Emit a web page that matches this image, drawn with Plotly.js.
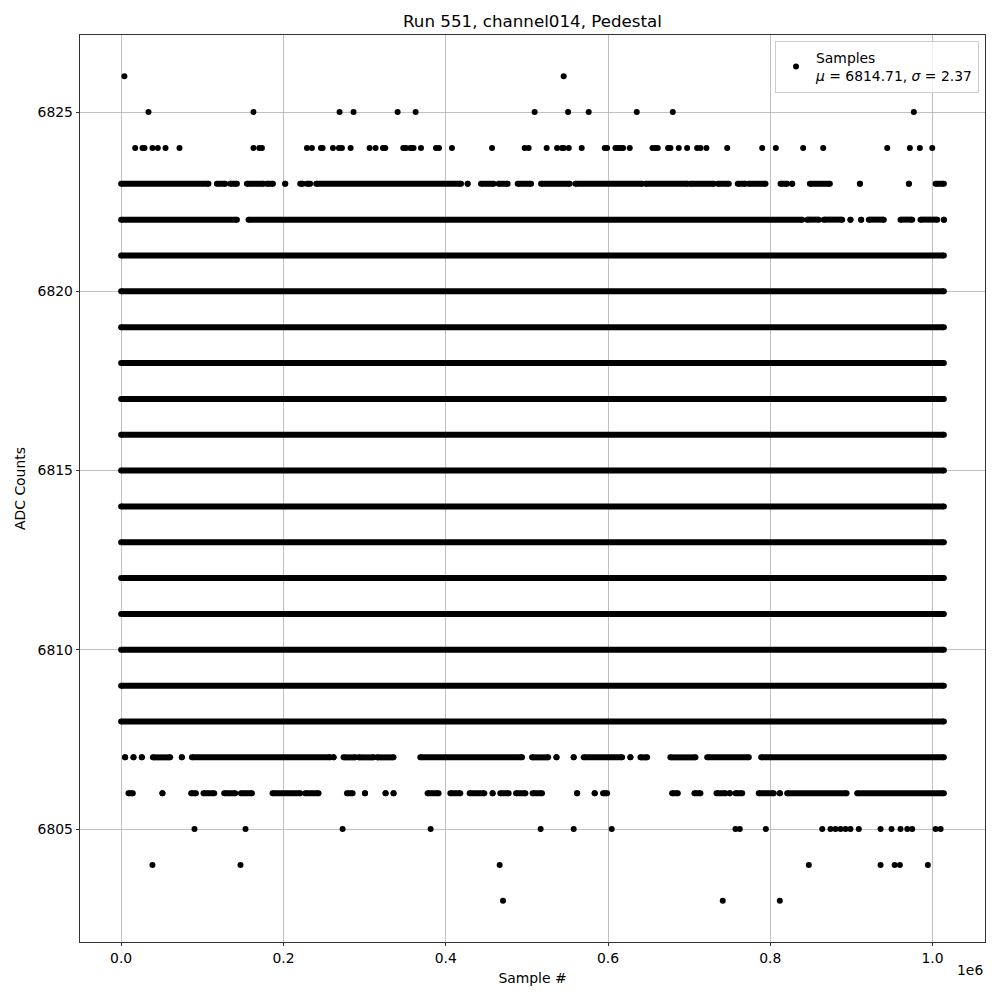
<!DOCTYPE html>
<html>
<head>
<meta charset="utf-8">
<script src="https://cdn.plot.ly/plotly-3.0.1.min.js"></script>
<style>html,body{margin:0;padding:0;background:#fff;}#chart{width:1000px;height:1000px;}</style>
</head>
<body>
<div id="chart"></div>
<script>
// ---- Data ----
const titleText = "Run 551, channel014, Pedestal";
const xLabel = "Sample #";
const yLabel = "ADC Counts";
const legendName = "Samples<br><i>μ</i> = 6814.71, <i>σ</i> = 2.37";

const xTickVals = [0, 200000, 400000, 600000, 800000, 1000000];
const xTickText = ["0.0", "0.2", "0.4", "0.6", "0.8", "1.0"];
const yTickVals = [6805, 6810, 6815, 6820, 6825];

// ADC levels that are filled over the whole run
const denseLevels = [6808, 6809, 6810, 6811, 6812, 6813, 6814, 6815, 6816, 6817, 6818, 6819, 6820, 6821];
const firstSample = 0;
const lastSample = 1013900;

// partially filled levels: runs of consecutive samples (start, end)
const row6823Start = [0, 118000, 134400, 155000, 179700, 202200, 220700, 229000, 240400, 427000, 443500, 465200, 488700, 517500, 559800, 646100, 701600, 735300, 759900, 773500, 812600, 827000, 848700, 910400, 970800, 1003700];
const row6823End   = [107600, 128200, 142700, 175500, 187100, 202200, 224000, 233000, 418900, 427000, 459100, 476300, 505200, 552800, 642000, 698300, 730300, 748800, 769400, 794100, 820800, 827000, 873400, 910400, 970800, 1013900];

const row6822Start = [0, 157000, 845500, 865900, 898800, 912000, 921400, 960500, 985100, 1013900];
const row6822End   = [142700, 839300, 859800, 888600, 898800, 912000, 939900, 974900, 1005800, 1013900];

const row6807Start = [4900, 15200, 25500, 39100, 74800, 87200, 261800, 274100, 292600, 315300, 368700, 506400, 536500, 557700, 570000, 627600, 640000, 676900, 722200, 788800];
const row6807End   = [4900, 15200, 25500, 60400, 74800, 257700, 261800, 288500, 311100, 335700, 494100, 526200, 536500, 557700, 617400, 627600, 648200, 707800, 773500, 1013900];

const row6806Start = [9000, 50900, 86300, 101500, 127000, 147600, 186600, 226900, 278300, 300500, 325900, 335700, 377700, 405700, 429500, 457800, 467300, 486700, 507100, 561900, 583600, 593900, 679000, 706500, 733700, 750100, 757100, 785800, 811700, 820800, 907100];
const row6806End   = [14400, 50900, 92100, 114700, 140600, 161100, 220700, 243300, 285200, 300500, 325900, 335700, 391200, 418000, 447600, 457800, 477600, 498200, 518700, 561900, 583600, 598900, 686000, 713900, 744800, 750100, 765400, 804300, 811700, 894000, 1013900];

// isolated samples
const pts6826 = [4000, 545400];
const pts6825 = [33700, 163100, 269200, 286400, 340700, 362900, 509600, 550800, 576200, 635400, 679800, 976900];
const pts6824 = [17300, 26300, 28800, 38600, 45200, 54700, 71900, 163100, 170200, 173500, 229000, 235100, 246200, 248300, 261000, 268400, 272100, 282800, 306200, 313600, 322600, 325500, 347700, 351000, 356400, 358400, 360400, 369500, 388000, 391700, 407700, 457100, 497300, 502200, 524400, 537200, 543300, 545400, 551600, 567600, 596000, 598900, 609100, 612000, 615300, 618600, 626800, 654800, 658400, 661300, 674000, 676900, 687200, 697500, 709800, 713900, 721300, 746900, 790000, 806800, 840500, 865200, 944100, 972000, 984300, 999600];
const pts6805 = [90400, 153300, 272900, 381400, 517000, 557700, 604600, 757100, 762400, 794500, 864000, 874200, 880400, 886600, 892700, 898800, 909100, 935900, 949400, 960500, 968800, 974900, 1003700, 1009900];
const pts6804 = [38600, 147100, 466500, 847500, 935900, 953200, 959700, 994200];
const pts6803 = [470600, 741400, 811700];

// ---- Build traces ----
const MS = 6;
const black = "#000000";

function runsTrace(levels, starts, ends) {
  const x = [], y = [];
  for (let k = 0; k < levels.length; k++) {
    x.push(starts[k], ends[k], null);
    y.push(levels[k], levels[k], null);
  }
  return {
    type: "scatter", mode: "lines+markers", x: x, y: y,
    line: {color: black, width: MS}, marker: {color: black, size: MS},
    showlegend: false, hoverinfo: "skip", connectgaps: false
  };
}

// dense levels
const dLev = [], dS = [], dE = [];
denseLevels.forEach(l => { dLev.push(l); dS.push(firstSample); dE.push(lastSample); });
const traces = [runsTrace(dLev, dS, dE)];

function addRow(level, starts, ends) {
  traces.push(runsTrace(starts.map(() => level), starts, ends));
}
addRow(6823, row6823Start, row6823End);
addRow(6822, row6822Start, row6822End);
addRow(6807, row6807Start, row6807End);
addRow(6806, row6806Start, row6806End);

const sx = [], sy = [];
[[6826, pts6826], [6825, pts6825], [6824, pts6824], [6805, pts6805], [6804, pts6804], [6803, pts6803]].forEach(([lev, arr]) => {
  arr.forEach(v => { sx.push(v); sy.push(lev); });
});
traces.push({
  type: "scatter", mode: "markers", x: sx, y: sy, name: legendName,
  marker: {color: black, size: MS}, showlegend: true
});

const font = {family: "DejaVu Sans, sans-serif", color: "#000000"};

const layout = {
  width: 1000, height: 1000,
  paper_bgcolor: "#ffffff", plot_bgcolor: "#ffffff",
  margin: {l: 80, r: 15, t: 35, b: 58, pad: 0},
  font: Object.assign({size: 13.9}, font),
  title: {text: titleText, font: Object.assign({size: 16.7}, font), x: 0.5325, xanchor: "center", y: 0.979, yanchor: "middle"},
  showlegend: true,
  legend: {
    x: 0.9934, xanchor: "right", y: 0.9934, yanchor: "top",
    bgcolor: "rgba(255,255,255,0.8)", bordercolor: "#cccccc", borderwidth: 1,
    font: Object.assign({size: 13.9}, font), itemsizing: "trace"
  },
  xaxis: {
    range: [-50700, 1064600],
    tickvals: xTickVals, ticktext: xTickText,
    showgrid: true, gridcolor: "#b0b0b0", gridwidth: 0.8,
    zeroline: false, showline: true, linecolor: "#000000", linewidth: 0.8, mirror: true,
    ticks: "outside", ticklen: 3.5, tickwidth: 0.8, tickcolor: "#000000",
    tickfont: Object.assign({size: 13.9}, font),
    title: {text: xLabel, font: Object.assign({size: 13.9}, font), standoff: 8}
  },
  yaxis: {
    range: [6801.85, 6827.15],
    tickvals: yTickVals,
    showgrid: true, gridcolor: "#b0b0b0", gridwidth: 0.8,
    zeroline: false, showline: true, linecolor: "#000000", linewidth: 0.8, mirror: true,
    ticks: "outside", ticklen: 3.5, tickwidth: 0.8, tickcolor: "#000000",
    tickfont: Object.assign({size: 13.9}, font),
    title: {text: yLabel, font: Object.assign({size: 13.9}, font), standoff: 8}
  },
  annotations: [{
    text: "1e6", xref: "paper", yref: "paper", x: 1, y: -0.031,
    xanchor: "right", yanchor: "middle", showarrow: false,
    font: Object.assign({size: 13.9}, font)
  }]
};

Plotly.newPlot("chart", traces, layout, {displayModeBar: false, staticPlot: true});
</script>
</body>
</html>
